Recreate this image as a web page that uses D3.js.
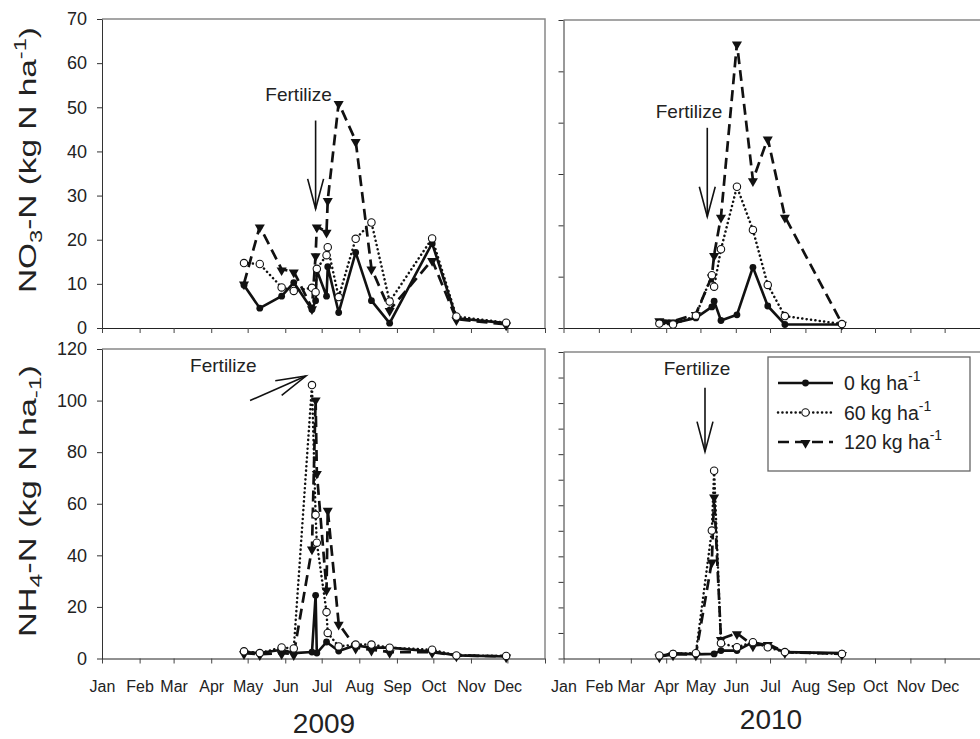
<!DOCTYPE html>
<html>
<head>
<meta charset="utf-8">
<script src="https://cdn.jsdelivr.net/npm/d3@7"></script>
<style>
  body { margin: 0; background: #fff; }
  text { font-family: "Liberation Sans", Arial, sans-serif; fill: #222; }
</style>
</head>
<body>
<svg id="chart" width="980" height="739"></svg>
<script>
const months = ["Jan", "Feb", "Mar", "Apr", "May", "Jun", "Jul", "Aug", "Sep", "Oct", "Nov", "Dec"];
const treatments = ["0 kg ha", "60 kg ha", "120 kg ha"];

// sampling dates
const dates2009 = ["2009-04-28", "2009-05-11", "2009-05-29", "2009-06-08", "2009-06-23", "2009-06-26",
  "2009-06-27", "2009-07-05", "2009-07-06", "2009-07-15", "2009-07-29", "2009-08-11", "2009-08-26",
  "2009-09-30", "2009-10-20", "2009-11-30"];
const dates2010 = ["2010-03-26", "2010-04-07", "2010-04-27", "2010-05-11", "2010-05-13", "2010-05-19",
  "2010-06-02", "2010-06-16", "2010-06-29", "2010-07-14", "2010-09-02"];

// NO3-N (kg N/ha)
const no3_0_2009 = [9.7, 4.5, 7.2, 10.3, 4.2, 6.2, 13.1, 7.2, 13.9, 3.5, 17.1, 6.2, 1.1, 19.2, 2.2, 1.1];
const no3_60_2009 = [14.7, 14.5, 9.2, 8.4, 9.1, 8.1, 13.4, 16.5, 18.3, 7.0, 20.2, 23.9, 6.0, 20.3, 2.6, 1.2];
const no3_120_2009 = [10.1, 23.0, 13.3, 12.8, 4.5, 16.5, 23.0, 21.8, 29.0, 51.0, 42.4, 13.5, 4.1, 15.4, 2.0, 0.8];
const no3_0_2010 = [1.2, 1.1, 2.3, 4.8, 6.1, 1.7, 3.0, 13.8, 5.0, 0.8, 0.8];
const no3_60_2010 = [1.0, 0.8, 2.8, 12.0, 9.4, 17.9, 32.1, 22.3, 9.8, 2.7, 0.9];
const no3_120_2010 = [1.8, 1.5, 3.2, 11.7, 16.6, 25.3, 64.7, 33.6, 43.1, 25.3, 1.0];

// NH4-N (kg N/ha)
const nh4_0_2009 = [2.5, 2.1, 3.4, 2.1, 2.5, 24.5, 2.1, 6.4, null, 2.9, 5.1, 4.2, 4.2, 2.7, 1.2, 0.8];
const nh4_60_2009 = [2.8, 2.1, 4.3, 3.9, 106, 55.7, 44.9, 18.0, 9.9, 4.7, 5.4, 5.4, 4.2, 3.4, 1.2, 1.0];
const nh4_120_2009 = [2.1, 1.7, 2.1, 1.7, 42.7, 100.5, 72.0, 26.8, 57.7, 13.5, 4.2, 3.4, 2.5, 2.5, 1.2, 0.8];
const nh4_0_2010 = [0.8, 2.1, 1.6, null, 1.8, 3.1, 3.1, 6.4, 5.1, 2.5, 2.1];
const nh4_60_2010 = [1.2, 1.8, 2.1, 50.1, 73.5, 6.0, 4.4, 6.4, 4.4, 2.5, 1.8];
const nh4_120_2010 = [0.8, 1.6, 1.6, 38.0, 63.5, 7.7, 9.9, 5.1, 5.7, 2.5, 1.8];

// fertilizer arrows: [date, value] from -> to, and label position
const fertArrows = {
  tl: {from: ["2009-06-26", 47], to: ["2009-06-26", 27], label: ["2009-06-12", 51.5]},
  tr: {from: ["2010-05-07", 45.5], to: ["2010-05-07", 25.3], label: ["2010-04-21", 47.8]},
  bl: {from: ["2009-05-03", 100], to: ["2009-06-18", 109.5], label: ["2009-04-11", 111]},
  br: {from: ["2010-05-05", 106], to: ["2010-05-05", 81], label: ["2010-04-28", 111]}
};

const parse = d3.timeParse("%Y-%m-%d");
const svg = d3.select("#chart");

const styles = [
  {dash: null, width: 2.6, cap: "butt"},
  {dash: "0.1,4.3", width: 2.5, cap: "round"},
  {dash: "11,6", width: 2.7, cap: "butt"}
];

// nDiv = number of equal y tick intervals
const panels = [
  {id: "tl", x0: 102, x1: 545, frameX: 545, y0: 19, y1: 328, year: 2009, yMax: 70, nDiv: 7, labels: true,
    dates: dates2009, series: [no3_0_2009, no3_60_2009, no3_120_2009]},
  {id: "tr", x0: 563.5, x1: 980, frameX: 983, y0: 20, y1: 328, year: 2010, yMax: 70, nDiv: 6, labels: false,
    dates: dates2010, series: [no3_0_2010, no3_60_2010, no3_120_2010]},
  {id: "bl", x0: 102, x1: 545, frameX: 545, y0: 349, y1: 658.5, year: 2009, yMax: 120, nDiv: 6, labels: true,
    dates: dates2009, series: [nh4_0_2009, nh4_60_2009, nh4_120_2009]},
  {id: "br", x0: 563.5, x1: 980, frameX: 983, y0: 352, y1: 658.5, year: 2010, yMax: 120, nDiv: 12, labels: false,
    dates: dates2010, series: [nh4_0_2010, nh4_60_2010, nh4_120_2010]}
];

function drawMarker(g, kind, x, y) {
  if (kind === 0) {
    g.append("circle").attr("cx", x).attr("cy", y).attr("r", 3.4).attr("fill", "#111");
  } else if (kind === 1) {
    g.append("circle").attr("cx", x).attr("cy", y).attr("r", 3.7)
      .attr("fill", "#fff").attr("stroke", "#111").attr("stroke-width", 1.1);
  } else {
    g.append("path").attr("d", d3.symbol(d3.symbolTriangle).size(44)())
      .attr("transform", `translate(${x},${y + 1}) rotate(180)`).attr("fill", "#111");
  }
}

panels.forEach(p => {
  const start = new Date(p.year, 0, 1), end = new Date(p.year + 1, 0, 1);
  const x = d3.scaleTime().domain([start, end]).range([p.x0, p.x1]);
  const y = d3.scaleLinear().domain([0, p.yMax]).range([p.y1, p.y0]);

  // frame: top and right in grey
  svg.append("path")
    .attr("d", `M${p.x0},${p.y0}H${p.frameX}V${p.y1}`)
    .attr("fill", "none").attr("stroke", "#888").attr("stroke-width", 1.5);

  const xAxis = d3.axisBottom(x)
    .tickValues(d3.timeMonth.range(start, d3.timeDay.offset(end, 1)))
    .tickSize(5).tickSizeOuter(0).tickPadding(17)
    .tickFormat((d, i) => (p.id === "bl" || p.id === "br") && i < 12 ? months[i] : "");
  const gx = svg.append("g").attr("transform", `translate(0,${p.y1})`).call(xAxis);
  gx.select(".domain").attr("stroke", "#222");
  gx.selectAll(".tick line").attr("stroke", "#444");
  gx.selectAll("text").attr("font-size", 16).attr("fill", "#222")
    .attr("font-family", "Liberation Sans, Arial, sans-serif");

  const yAxis = d3.axisLeft(y)
    .tickValues(d3.range(p.nDiv + 1).map(i => p.yMax * i / p.nDiv))
    .tickSize(5).tickSizeOuter(0).tickPadding(10)
    .tickFormat(d => p.labels ? d : "");
  const gy = svg.append("g").attr("transform", `translate(${p.x0},0)`).call(yAxis);
  gy.select(".domain").attr("stroke", "#333");
  gy.selectAll(".tick line").attr("stroke", "#333");
  gy.selectAll("text").attr("font-size", 18).attr("fill", "#222")
    .attr("font-family", "Liberation Sans, Arial, sans-serif");

  // series: draw 120, 0, 60 so open circles sit on top
  [2, 0, 1].forEach(k => {
    const pts = p.dates.map((d, i) => ({date: parse(d), v: p.series[k][i]}))
      .filter(d => d.v !== null);
    const line = d3.line().x(d => x(d.date)).y(d => y(d.v));
    const st = styles[k];
    svg.append("path").datum(pts).attr("d", line)
      .attr("fill", "none").attr("stroke", "#111")
      .attr("stroke-width", st.width).attr("stroke-linecap", st.cap)
      .attr("stroke-linejoin", "round")
      .attr("stroke-dasharray", st.dash);
    const gm = svg.append("g");
    pts.forEach(d => drawMarker(gm, k, x(d.date), y(d.v)));
  });

  // fertilize annotation
  const a = fertArrows[p.id];
  const fx = x(parse(a.from[0])), fy = y(a.from[1]);
  const tx = x(parse(a.to[0])), ty = y(a.to[1]);
  svg.append("line").attr("x1", fx).attr("y1", fy).attr("x2", tx).attr("y2", ty)
    .attr("stroke", "#111").attr("stroke-width", 1.6);
  const ang = Math.atan2(ty - fy, tx - fx);
  const hl = 31, spread = 0.26;
  const head = [ang + Math.PI - spread, ang + Math.PI + spread]
    .map(t => [tx + hl * Math.cos(t), ty + hl * Math.sin(t)]);
  svg.append("path")
    .attr("d", `M${head[0][0]},${head[0][1]}L${tx},${ty}L${head[1][0]},${head[1][1]}`)
    .attr("fill", "none").attr("stroke", "#111").attr("stroke-width", 1.6);
  svg.append("text").attr("x", x(parse(a.label[0]))).attr("y", y(a.label[1]))
    .attr("text-anchor", "middle").attr("font-size", 19).text("Fertilize");
});

// year labels
svg.append("text").attr("x", 324).attr("y", 733).attr("text-anchor", "middle")
  .attr("font-size", 28).text("2009");
svg.append("text").attr("x", 771).attr("y", 729).attr("text-anchor", "middle")
  .attr("font-size", 28).text("2010");

// y axis titles
const t1 = svg.append("text").attr("transform", "translate(36,160) rotate(-90)")
  .attr("text-anchor", "middle").attr("font-size", 24)
  .attr("textLength", 266).attr("lengthAdjust", "spacingAndGlyphs");
t1.append("tspan").text("NO");
t1.append("tspan").attr("font-size", 17).attr("dy", 6).text("3");
t1.append("tspan").attr("dy", -6).text("-N (kg N ha");
t1.append("tspan").attr("font-size", 17).attr("dy", -10).text("-1");
t1.append("tspan").attr("dy", 10).text(")");

const t2 = svg.append("text").attr("transform", "translate(36,501) rotate(-90)")
  .attr("text-anchor", "middle").attr("font-size", 24)
  .attr("textLength", 272).attr("lengthAdjust", "spacingAndGlyphs");
t2.append("tspan").text("NH");
t2.append("tspan").attr("font-size", 17).attr("dy", 6).text("4");
t2.append("tspan").attr("dy", -6).text("-N (kg N ha");
t2.append("tspan").attr("font-size", 17).attr("dy", 5).text("-1");
t2.append("tspan").attr("dy", -5).text(")");

// legend
const lg = svg.append("g");
lg.append("rect").attr("x", 768).attr("y", 357).attr("width", 202).attr("height", 114)
  .attr("fill", "#fff").attr("stroke", "#666").attr("stroke-width", 1.3);
[0, 1, 2].forEach(k => {
  const cy = 383 + k * 29.5;
  const st = styles[k];
  lg.append("line").attr("x1", 778).attr("x2", 833).attr("y1", cy).attr("y2", cy)
    .attr("stroke", "#111").attr("stroke-width", st.width)
    .attr("stroke-linecap", st.cap).attr("stroke-dasharray", st.dash);
  drawMarker(lg, k, 805.5, cy);
  const t = lg.append("text").attr("x", 844).attr("y", cy + 7).attr("font-size", 19.5);
  t.append("tspan").text(treatments[k]);
  t.append("tspan").attr("font-size", 14).attr("dy", -9).text("-1");
});
</script>
</body>
</html>
